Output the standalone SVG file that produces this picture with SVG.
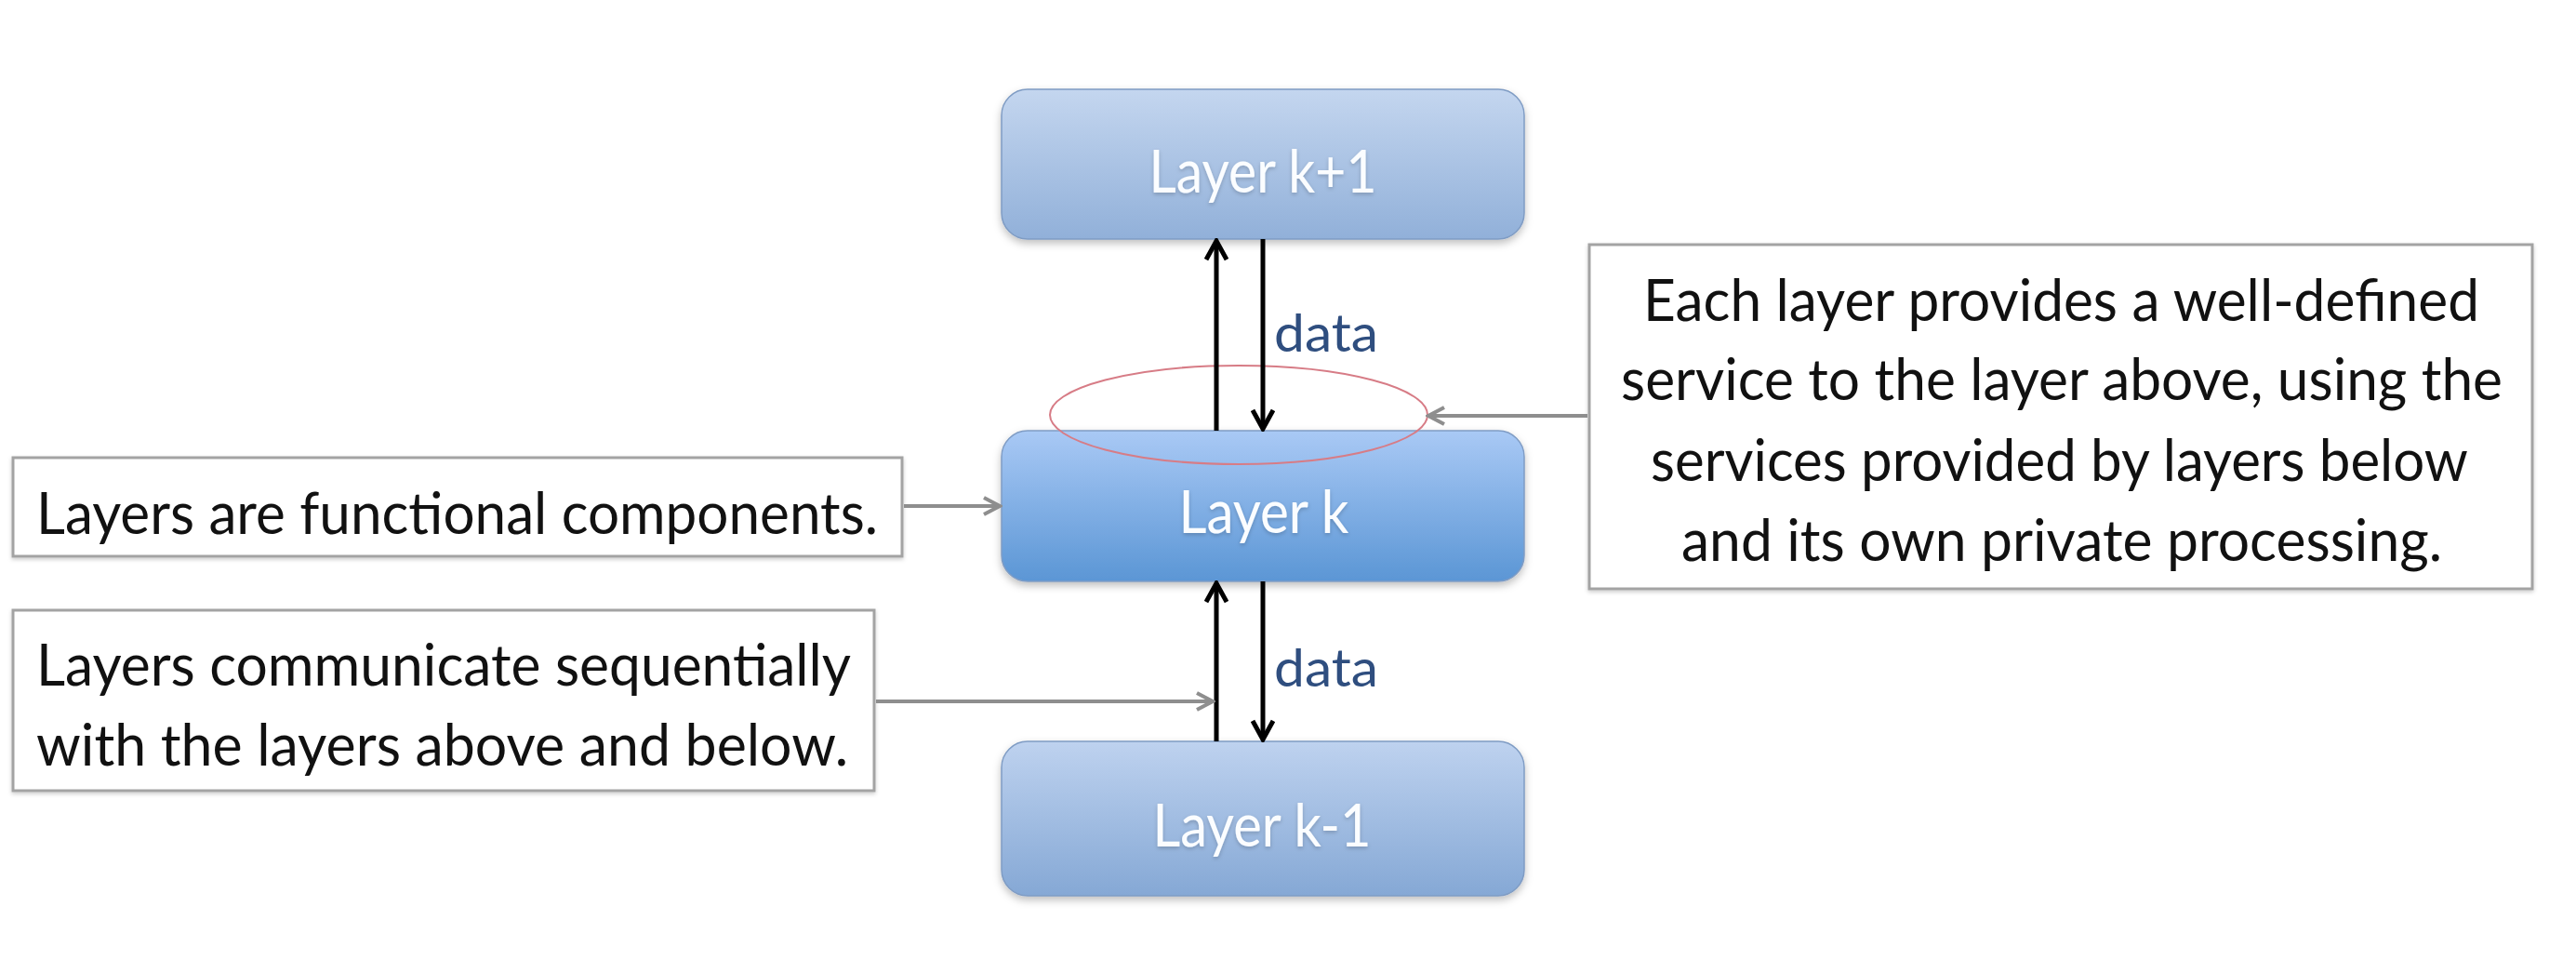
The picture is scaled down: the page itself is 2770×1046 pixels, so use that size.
<svg xmlns="http://www.w3.org/2000/svg" width="2770" height="1046" viewBox="0 0 2770 1046">
<defs>
<linearGradient id="gPale" x1="0" y1="0" x2="0" y2="1">
<stop offset="0" stop-color="#c4d6ef"/>
<stop offset="1" stop-color="#91b0d9"/>
</linearGradient>
<linearGradient id="gMid" x1="0" y1="0" x2="0" y2="1">
<stop offset="0" stop-color="#a9c9f5"/>
<stop offset="1" stop-color="#5b96d5"/>
</linearGradient>
<linearGradient id="gLow" x1="0" y1="0" x2="0" y2="1">
<stop offset="0" stop-color="#bed2ef"/>
<stop offset="1" stop-color="#85a8d5"/>
</linearGradient>
<filter id="sh" x="-10%" y="-10%" width="120%" height="130%">
<feDropShadow dx="0" dy="4" stdDeviation="4" flood-color="#000" flood-opacity="0.25"/>
</filter>
<filter id="tsh" x="-10%" y="-10%" width="120%" height="130%">
<feDropShadow dx="0" dy="2" stdDeviation="2" flood-color="#000" flood-opacity="0.2"/>
</filter>
<marker id="ahB" viewBox="0 0 26 26" refX="23" refY="13" markerWidth="26" markerHeight="26" markerUnits="userSpaceOnUse" orient="auto">
<path d="M3,2 L23,13 L3,24" fill="none" stroke="#000" stroke-width="5"/>
</marker>
<marker id="ahG" viewBox="0 0 24 24" refX="21" refY="12" markerWidth="24" markerHeight="24" markerUnits="userSpaceOnUse" orient="auto">
<path d="M4,3 L21,12 L4,21" fill="none" stroke="#8e8e8e" stroke-width="4"/>
</marker>
</defs>
<style>
.layer { stroke: #7f9cc4; stroke-width: 1.5; filter: url(#sh); }
.ltxt { font-family: Lato, "Open Sans", sans-serif; font-size: 63px; fill: #fbfdff; text-anchor: middle; filter: url(#tsh); }
.note { fill: #ffffff; stroke: #a3a3a3; stroke-width: 3; filter: url(#tsh); }
.ntxt { font-family: Lato, "Open Sans", sans-serif; font-size: 61px; fill: #111111; }
.data { font-family: Lato, "Open Sans", sans-serif; font-size: 57px; fill: #2f4e7f; }
.blk { stroke: #000; stroke-width: 5; fill: none; marker-end: url(#ahB); }
.gry { stroke: #8e8e8e; stroke-width: 4; fill: none; marker-end: url(#ahG); }
</style>
<rect width="2770" height="1046" fill="#ffffff"/>

<g id="layer-k-plus-1">
<rect class="layer" x="1077" y="96" width="562" height="161" rx="28" fill="url(#gPale)"/>
<text class="ltxt" x="1358" y="207" textLength="245" lengthAdjust="spacingAndGlyphs">Layer k+1</text>
</g>

<g id="layer-k">
<rect class="layer" x="1077" y="463" width="562" height="162" rx="28" fill="url(#gMid)"/>
<text class="ltxt" x="1359" y="573" textLength="183" lengthAdjust="spacingAndGlyphs">Layer k</text>
</g>

<g id="layer-k-minus-1">
<rect class="layer" x="1077" y="797" width="562" height="166" rx="28" fill="url(#gLow)"/>
<text class="ltxt" x="1357" y="910" textLength="235" lengthAdjust="spacingAndGlyphs">Layer k-1</text>
</g>

<g id="note-functional">
<rect class="note" x="14" y="492" width="956" height="106"/>
<text class="ntxt" x="39" y="574" textLength="905" lengthAdjust="spacingAndGlyphs">Layers are functional components.</text>
</g>

<g id="note-sequential">
<rect class="note" x="14" y="656" width="926" height="194"/>
<text class="ntxt" x="39" y="737" textLength="876" lengthAdjust="spacingAndGlyphs">Layers communicate sequentially</text>
<text class="ntxt" x="39" y="823" textLength="873" lengthAdjust="spacingAndGlyphs">with the layers above and below.</text>
</g>

<g id="note-service">
<rect class="note" x="1709" y="263" width="1014" height="370"/>
<text class="ntxt" x="1767" y="345" textLength="899" lengthAdjust="spacingAndGlyphs">Each layer provides a well-defined</text>
<text class="ntxt" x="1743" y="430" textLength="948" lengthAdjust="spacingAndGlyphs">service to the layer above, using the</text>
<text class="ntxt" x="1775" y="517" textLength="879" lengthAdjust="spacingAndGlyphs">services provided by layers below</text>
<text class="ntxt" x="1808" y="603" textLength="818" lengthAdjust="spacingAndGlyphs">and its own private processing.</text>
</g>

<g id="highlight-ellipse">
<ellipse cx="1332" cy="446" rx="203" ry="53" fill="none" stroke="#d77c86" stroke-width="2"/>
</g>

<g id="connectors">
<line class="blk" x1="1308" y1="463" x2="1308" y2="259"/>
<line class="blk" x1="1358" y1="257" x2="1358" y2="461"/>
<line class="blk" x1="1308" y1="797" x2="1308" y2="627"/>
<line class="blk" x1="1358" y1="625" x2="1358" y2="795"/>
<line class="gry" x1="972" y1="544" x2="1075" y2="544"/>
<line class="gry" x1="942" y1="754" x2="1304" y2="754"/>
<line class="gry" x1="1707" y1="447" x2="1536" y2="447"/>
<text class="data" x="1370" y="378" textLength="112" lengthAdjust="spacingAndGlyphs">data</text>
<text class="data" x="1370" y="738" textLength="112" lengthAdjust="spacingAndGlyphs">data</text>
</g>
</svg>
